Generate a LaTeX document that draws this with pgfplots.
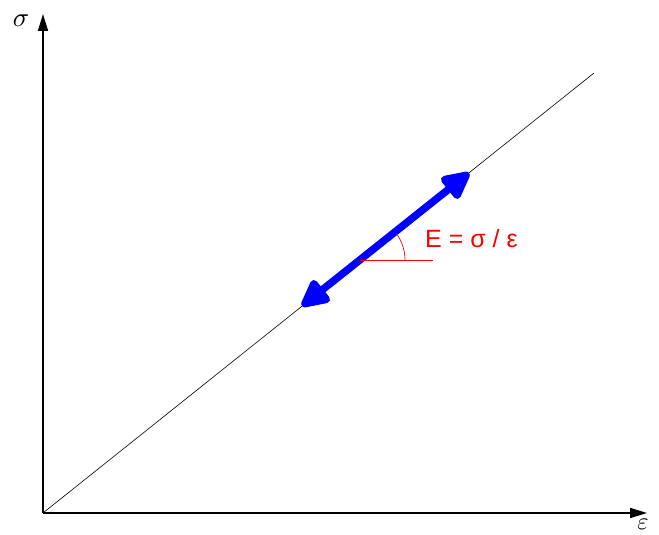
\documentclass[border=0pt]{standalone}
\usepackage{pgfplots}
\pgfplotsset{compat=1.18}
\usepackage{fontspec}
\newfontfamily\labelfont{Liberation Sans}
\usetikzlibrary{arrows.meta}

% Linear elastic line: stress rises in proportion to strain
\pgfplotstableread{
eps sig
0 0
551 440
}\elastic
% Loading / unloading stretch along the elastic line
\pgfplotstableread{
eps sig
259 207
426 340
}\loadpath

\begin{document}
\begin{tikzpicture}
\useasboundingbox (-43pt,-22pt) rectangle (616pt,513pt);
\clip (-43pt,-22pt) rectangle (616pt,513pt);
\begin{axis}[
  at={(0,0)}, anchor=origin,
  x=1pt, y=1pt,
  xmin=0, xmax=604, ymin=0, ymax=499,
  axis lines=left,
  axis line style={line width=1.6pt, -{Triangle[length=17pt,width=10pt]}},
  xtick=\empty, ytick=\empty,
  clip=false,
]
\addplot[black, line width=0.6pt] table[x=eps, y=sig] {\elastic};
\addplot[blue, line width=7.5pt,
  {Triangle[length=32pt,width=30pt,round]}-{Triangle[length=32pt,width=30pt,round]}]
  table[x=eps, y=sig] {\loadpath};
\addplot[red, line width=0.7pt] coordinates {(317,253) (390,253)};
\draw[red, line width=0.7pt] (axis cs:362,253) arc[start angle=0, end angle=36, radius=45pt];
\node[red, anchor=base west, inner sep=0pt, font=\labelfont\fontsize{25}{28}\selectfont]
  at (axis cs:382,265) {E = σ / ε};
\node[scale=2.7, inner sep=0pt] at (axis cs:-22,492) {$\sigma$};
\node[scale=2.4, inner sep=0pt] at (axis cs:600,-11) {$\varepsilon$};
\end{axis}
\end{tikzpicture}
\end{document}
